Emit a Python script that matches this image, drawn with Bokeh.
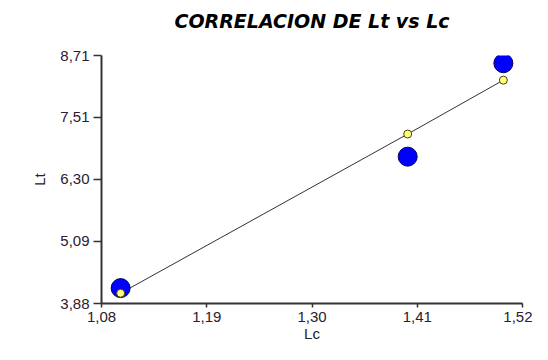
from bokeh.plotting import figure
from bokeh.models import FixedTicker, CustomJSTickFormatter, Range1d, ColumnDataSource
from bokeh.embed import file_html
from bokeh.resources import INLINE

# Data
lc = [1.10, 1.40, 1.50]
lt_obs = [4.18, 6.74, 8.56]
lt_fit = [4.08, 7.18, 8.23]
x_ticks = [1.08, 1.19, 1.30, 1.41, 1.52]
y_ticks = [3.88, 5.09, 6.30, 7.51, 8.71]
title_text = "CORRELACION DE Lt vs Lc"
x_label = "Lc"
y_label = "Lt"

W, H = 532, 344
BL, BR, BT, BB = 101, 10, 55, 41

src = ColumnDataSource(dict(x=lc, obs=lt_obs, fit=lt_fit))

p = figure(width=W, height=H, output_backend="svg", toolbar_location=None,
           x_range=Range1d(x_ticks[0], x_ticks[-1]), y_range=Range1d(y_ticks[0], y_ticks[-1]),
           min_border_left=BL, min_border_right=BR, min_border_top=BT, min_border_bottom=BB,
           background_fill_color="white", border_fill_color="white")
p.outline_line_color = None
p.grid.visible = False

# a trailing empty line keeps the title well above the frame
p.title.text = title_text + "\n"
p.title.align = "center"
p.title.vertical_align = "top"
p.title.standoff = 0
p.title.text_font = "DejaVu Sans"
p.title.text_font_style = "bold italic"
p.title.text_font_size = "19px"
p.title.text_color = "black"

fmt = CustomJSTickFormatter(code="return tick.toFixed(2).replace('.', ',');")
for ax, ticks, lab in ((p.xaxis[0], x_ticks, x_label), (p.yaxis[0], y_ticks, y_label)):
    ax.ticker = FixedTicker(ticks=ticks)
    ax.formatter = fmt
    ax.axis_label = lab
    ax.axis_label_text_font = "Liberation Sans"
    ax.axis_label_text_font_style = "normal"
    ax.axis_label_text_font_size = "15px"
    ax.axis_label_text_color = "#222222"
    ax.major_label_text_font = "Liberation Sans"
    ax.major_label_text_font_size = "15px"
    ax.major_label_text_color = "#2a2030"
    ax.axis_line_color = "#333333"
    ax.axis_line_width = 2
    ax.major_tick_line_color = "#333333"
    ax.major_tick_line_width = 1.5
    ax.major_tick_in = 0
    ax.minor_tick_line_color = None

p.xaxis[0].major_tick_out = 4
p.xaxis[0].major_label_standoff = 4
p.xaxis[0].axis_label_standoff = 0
p.yaxis[0].major_tick_out = 8
p.yaxis[0].major_label_standoff = 4
p.yaxis[0].axis_label_standoff = 9

p.line("x", "fit", source=src, line_color="#333333", line_width=1)
p.scatter("x", "obs", source=src, marker="circle", size=19,
          fill_color="#0000ff", line_color="#000066", line_width=1)
p.scatter("x", "fit", source=src, marker="circle", size=8,
          fill_color="#ffff80", line_color="#444400", line_width=1)

open("out.html", "w").write(file_html(p, INLINE))
